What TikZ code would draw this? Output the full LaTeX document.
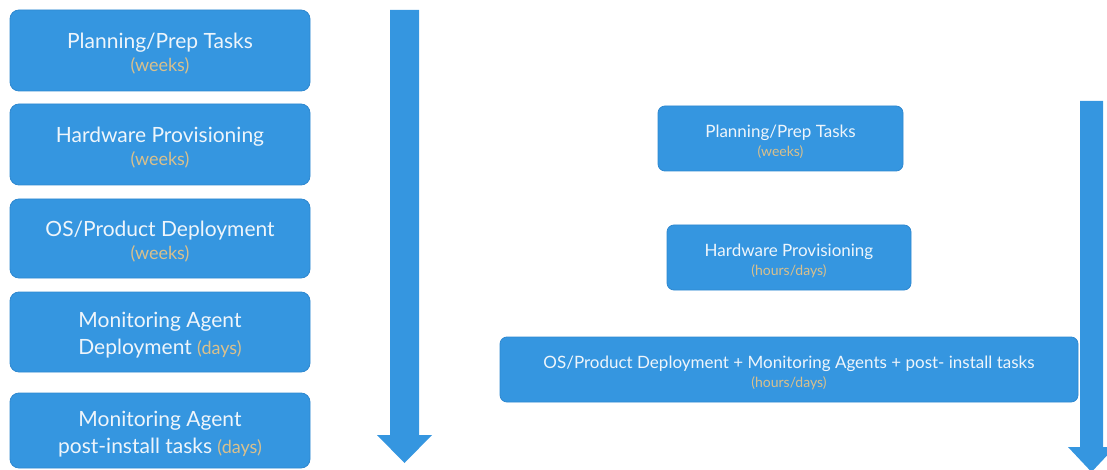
\documentclass[tikz,border=0pt]{standalone}
\usepackage{fontspec}
\setmainfont{Lato}
\definecolor{boxblue}{HTML}{3596E0}
\definecolor{boxedge}{HTML}{2E88D0}
\definecolor{boxtext}{HTML}{EEF5FB}
\definecolor{durtext}{HTML}{D9C08C}
\newcommand{\dur}[1]{\textcolor{durtext}{#1}}
\newcommand{\bigdur}[1]{{\fontsize{18}{20}\selectfont\dur{#1}}}
\newcommand{\smalldur}[1]{{\fontsize{14}{16}\selectfont\dur{#1}}}
% extra room above the first line pushes the text block slightly down
\newcommand{\bigtop}{\rule{0pt}{22pt}}
\newcommand{\smalltop}{\rule{0pt}{20pt}}
\tikzset{
  bigbox/.style={draw=boxedge, line width=0.8pt, fill=boxblue, rounded corners=9pt,
    text=boxtext, align=center, inner sep=0pt, minimum width=300pt,
    font=\fontsize{21}{27}\selectfont},
  smallbox/.style={draw=boxedge, line width=0.8pt, fill=boxblue, rounded corners=7pt,
    text=boxtext, align=center, inner sep=0pt, minimum height=65pt,
    font=\fontsize{17}{20}\selectfont},
  timearrow/.style={fill=boxblue, draw=none}
}
\begin{document}
\begin{tikzpicture}[x=1pt, y=-1pt]
\useasboundingbox (0,0) rectangle (1107,470);
\clip (0,0) rectangle (1107,470);

% current process: one box per stage
\node[bigbox, minimum height=81pt] (p1) at (160,50.5)
  {\bigtop Planning/Prep Tasks\\[-4pt]\bigdur{(weeks)}};
\node[bigbox, minimum height=81pt] (p2) at (160,144.5)
  {\bigtop Hardware Provisioning\\[-4pt]\bigdur{(weeks)}};
\node[bigbox, minimum height=79pt] (p3) at (160,238.5)
  {\bigtop OS/Product Deployment\\[-4pt]\bigdur{(weeks)}};
\node[bigbox, minimum height=80pt] (p4) at (160,332)
  {\bigtop Monitoring Agent\\Deployment \bigdur{(days)}};
\node[bigbox, minimum height=75pt] (p5) at (160,430.5)
  {\bigtop Monitoring Agent\\post-install tasks \bigdur{(days)}};

% time axis for the current process
\fill[timearrow] (390,10) -- (419,10) -- (419,435) -- (432,435)
  -- (404.5,463) -- (377,435) -- (390,435) -- cycle;

% streamlined process
\node[smallbox, minimum width=245pt] (s1) at (780.5,138.5)
  {\smalltop Planning/Prep Tasks\\[-1pt]\smalldur{(weeks)}};
\node[smallbox, minimum width=244pt] (s2) at (789,257.5)
  {\smalltop Hardware Provisioning\\[-1pt]\smalldur{(hours/days)}};
\node[smallbox, minimum width=578pt] (s3) at (789,369.5)
  {\smalltop OS/Product Deployment + Monitoring Agents + post- install tasks\\[-1pt]\smalldur{(hours/days)}};

% time axis for the streamlined process
\fill[timearrow] (1080,101) -- (1103,101) -- (1103,447) -- (1115,447)
  -- (1091.5,472) -- (1068,447) -- (1080,447) -- cycle;
\end{tikzpicture}
\end{document}
